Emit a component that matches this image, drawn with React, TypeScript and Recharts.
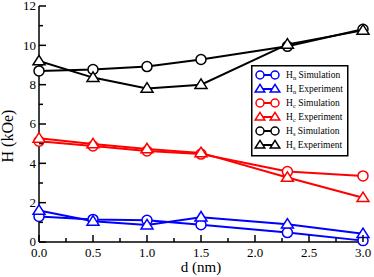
import { LineChart, Line, XAxis, YAxis } from 'recharts';

const dValues = [0, 0.5, 1.0, 1.5, 2.3, 3.0];
const hnSim = [1.3, 1.15, 1.1, 0.88, 0.48, 0.07];
const hnExp = [1.6, 1.05, 0.86, 1.26, 0.9, 0.42];
const hcSim = [5.12, 4.88, 4.63, 4.47, 3.58, 3.36];
const hcExp = [5.27, 4.98, 4.73, 4.53, 3.28, 2.25];
const hsSim = [8.7, 8.77, 8.92, 9.28, 9.95, 10.82];
const hsExp = [9.2, 8.36, 7.81, 8.0, 10.05, 10.76];

const xMajor = [0, 0.5, 1, 1.5, 2, 2.5, 3];
const xTicks = [0, 0.25, 0.5, 0.75, 1, 1.25, 1.5, 1.75, 2, 2.25, 2.5, 2.75, 3];
const yMajor = [0, 2, 4, 6, 8, 10, 12];
const yTicks = [0, 1, 2, 3, 4, 5, 6, 7, 8, 9, 10, 11, 12];

const FONT = 'Liberation Serif, Times New Roman, serif';

const SERIES = [
  { key: 'hnSim', values: hnSim, color: '#0000ff', marker: 'circle', sub: 'n', label: 'Simulation' },
  { key: 'hnExp', values: hnExp, color: '#0000ff', marker: 'triangle', sub: 'n', label: 'Experiment' },
  { key: 'hcSim', values: hcSim, color: '#ff0000', marker: 'circle', sub: 'c', label: 'Simulation' },
  { key: 'hcExp', values: hcExp, color: '#ff0000', marker: 'triangle', sub: 'c', label: 'Experiment' },
  { key: 'hsSim', values: hsSim, color: '#000000', marker: 'circle', sub: 's', label: 'Simulation' },
  { key: 'hsExp', values: hsExp, color: '#000000', marker: 'triangle', sub: 's', label: 'Experiment' },
];

const data = dValues.map((d, i) => {
  const row: Record<string, number> = { d };
  SERIES.forEach((s) => {
    row[s.key] = s.values[i];
  });
  return row;
});

const textStyle = { fontFamily: FONT, fill: '#000' };

function Marker({ cx, cy, color, kind, r = 5 }: any) {
  if (cx == null || cy == null) return null;
  if (kind === 'circle') {
    return <circle cx={cx} cy={cy} r={r} fill="#fff" stroke={color} strokeWidth={1.5} />;
  }
  const h = r * 1.9;
  const w = r * 1.2;
  return (
    <path
      d={`M${cx},${cy - h * 0.6} L${cx + w},${cy + h * 0.4} L${cx - w},${cy + h * 0.4} Z`}
      fill="#fff"
      stroke={color}
      strokeWidth={1.5}
    />
  );
}

const BottomTick = ({ x, y, payload }: any) => {
  const major = xMajor.includes(payload.value);
  return (
    <g>
      <line x1={x} x2={x} y1={y} y2={y - (major ? 7 : 4)} stroke="#000" strokeWidth={1.5} />
      {major && (
        <text x={x} y={y + 6} dy="0.71em" textAnchor="middle" fontSize={13} style={textStyle}>
          {payload.value.toFixed(1)}
        </text>
      )}
    </g>
  );
};

const TopTick = ({ x, y, payload }: any) => {
  const major = xMajor.includes(payload.value);
  return <line x1={x} x2={x} y1={y} y2={y + (major ? 7 : 4)} stroke="#000" strokeWidth={1.5} />;
};

const LeftTick = ({ x, y, payload }: any) => {
  const major = yMajor.includes(payload.value);
  return (
    <g>
      <line x1={x} x2={x + (major ? 7 : 4)} y1={y} y2={y} stroke="#000" strokeWidth={1.5} />
      {major && (
        <text x={x - 3} y={y} dy="0.33em" textAnchor="end" fontSize={13} style={textStyle}>
          {payload.value}
        </text>
      )}
    </g>
  );
};

const RightTick = ({ x, y, payload }: any) => {
  const major = yMajor.includes(payload.value);
  return <line x1={x} x2={x - (major ? 7 : 4)} y1={y} y2={y} stroke="#000" strokeWidth={1.5} />;
};

function LegendBox() {
  return (
    <svg width={98} height={92} style={{ position: 'absolute', left: 251, top: 65 }}>
      <rect x={0.75} y={0.75} width={96} height={90} fill="#fff" stroke="#000" strokeWidth={1.5} />
      {SERIES.map((s, i) => {
        const y = 10 + i * 14;
        return (
          <g key={s.key}>
            <line x1={9} x2={24} y1={y} y2={y} stroke={s.color} strokeWidth={2} />
            <Marker cx={9} cy={y} color={s.color} kind={s.marker} r={4} />
            <Marker cx={24} cy={y} color={s.color} kind={s.marker} r={4} />
            <text x={35} y={y} dy="0.35em" fontSize={9.5} style={textStyle}>
              H
              <tspan fontSize={6.5} dy={2}>{s.sub}</tspan>
              <tspan dy={-2}> {s.label}</tspan>
            </text>
          </g>
        );
      })}
    </svg>
  );
}

export default function App() {
  return (
    <div style={{ position: 'absolute', left: 0, top: 0, width: 374, height: 277, background: '#fff' }}>
      <LineChart width={374} height={277} data={data} margin={{ top: 6, right: 11, left: 0, bottom: 0 }}>
        <XAxis
          xAxisId="main"
          dataKey="d"
          type="number"
          domain={[0, 3]}
          ticks={xTicks}
          interval={0}
          height={35}
          tickLine={false}
          tickSize={0}
          tickMargin={0}
          tick={<BottomTick />}
          axisLine={{ stroke: '#000', strokeWidth: 1.5 }}
          label={{
            content: () => (
              <text x={201} y={272} textAnchor="middle" fontSize={15} style={textStyle}>
                d (nm)
              </text>
            ),
          }}
        />
        <XAxis
          xAxisId="top"
          orientation="top"
          dataKey="d"
          type="number"
          domain={[0, 3]}
          ticks={xTicks}
          interval={0}
          height={0}
          tickLine={false}
          tickSize={0}
          tickMargin={0}
          tick={<TopTick />}
          axisLine={{ stroke: '#000', strokeWidth: 1.5 }}
        />
        <YAxis
          yAxisId="main"
          type="number"
          domain={[0, 12]}
          ticks={yTicks}
          interval={0}
          width={39}
          tickLine={false}
          tickSize={0}
          tickMargin={0}
          tick={<LeftTick />}
          axisLine={{ stroke: '#000', strokeWidth: 1.5 }}
          label={{
            content: () => (
              <text
                x={13}
                y={136}
                transform="rotate(-90 13 136)"
                textAnchor="middle"
                fontSize={16}
                style={textStyle}
              >
                H (kOe)
              </text>
            ),
          }}
        />
        <YAxis
          yAxisId="right"
          orientation="right"
          type="number"
          domain={[0, 12]}
          ticks={yTicks}
          interval={0}
          width={0}
          tickLine={false}
          tickSize={0}
          tickMargin={0}
          tick={<RightTick />}
          axisLine={{ stroke: '#000', strokeWidth: 1.5 }}
        />
        {SERIES.map((s) => (
          <Line
            key={s.key}
            xAxisId="main"
            yAxisId="main"
            dataKey={s.key}
            type="linear"
            stroke={s.color}
            strokeWidth={2}
            isAnimationActive={false}
            dot={(p: any) => (
              <Marker key={`${s.key}-${p.index}`} cx={p.cx} cy={p.cy} color={s.color} kind={s.marker} />
            )}
          />
        ))}
      </LineChart>
      <LegendBox />
    </div>
  );
}
